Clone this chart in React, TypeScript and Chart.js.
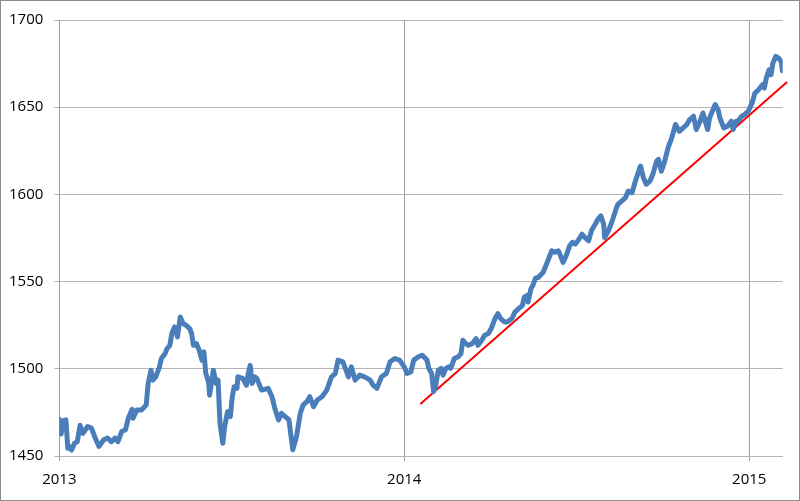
import React, { useEffect, useRef } from "react";
import { Chart, registerables } from "chart.js";

Chart.register(...registerables);

// Day offset from 1 Jan 2013
const days: number[] = [
  0, 2, 4, 7, 9, 11, 13, 16, 19, 22, 25, 30, 34, 38, 42, 47, 51, 55, 59, 62,
  66, 70, 73, 77, 78, 82, 87, 92, 94, 97, 99, 102, 106, 108, 112, 114, 117, 119, 122, 125,
  128, 131, 134, 138, 140, 142, 145, 148, 151, 153, 155, 158, 159, 163, 166, 168, 170, 173, 175, 178,
  181, 183, 185, 188, 189, 194, 198, 200, 202, 204, 207, 209, 214, 221, 225, 228, 232, 235, 239, 243,
  247, 251, 255, 258, 262, 265, 269, 273, 278, 283, 288, 292, 295, 300, 306, 309, 313, 318, 323, 329,
  332, 336, 341, 346, 350, 355, 360, 365, 368, 372, 375, 380, 384, 389, 391, 394, 396, 398, 401, 404,
  406, 409, 412, 414, 418, 422, 425, 427, 430, 433, 437, 441, 443, 447, 450, 454, 457, 461, 464, 467,
  471, 474, 479, 482, 486, 490, 492, 495, 496, 499, 501, 504, 507, 512, 517, 521, 524, 528, 531, 533,
  537, 540, 543, 546, 550, 553, 556, 560, 563, 567, 570, 573, 576, 577, 581, 585, 589, 591, 595, 599,
  602, 606, 609, 613, 615, 618, 621, 625, 628, 632, 634, 637, 640, 644, 648, 652, 656, 660, 664, 667,
  671, 674, 678, 681, 686, 688, 691, 694, 697, 699, 703, 707, 711, 713, 716, 718, 722, 725, 729, 733,
  736, 740, 744, 746, 748, 751, 753, 755, 758, 761, 764, 765,
];

const prices: number[] = [
  1471.1, 1462.6, 1470.3, 1470.7, 1454.4, 1455.3, 1453.4, 1457.2, 1458.2, 1467.6, 1463.0, 1466.9, 1466.0, 1460.3, 1455.5, 1459.3, 1460.3, 1458.2, 1460.3, 1458.2,
  1464.0, 1465.0, 1471.7, 1476.8, 1471.7, 1476.4, 1476.4, 1479.3, 1491.6, 1499.2, 1493.5, 1495.4, 1501.1, 1505.9, 1508.8, 1511.6, 1513.5, 1520.2, 1524.0, 1518.3,
  1529.7, 1525.9, 1525.0, 1523.1, 1520.2, 1513.5, 1514.5, 1510.6, 1504.9, 1509.7, 1497.3, 1492.5, 1484.9, 1499.2, 1491.6, 1493.5, 1468.8, 1457.3, 1466.9, 1475.4,
  1472.6, 1484.0, 1489.7, 1488.8, 1495.4, 1494.5, 1490.6, 1497.3, 1502.0, 1491.6, 1495.4, 1494.5, 1487.8, 1488.8, 1484.0, 1477.4, 1470.7, 1474.5, 1472.6, 1470.7,
  1453.6, 1461.2, 1474.5, 1479.3, 1481.2, 1484.0, 1478.3, 1482.1, 1484.0, 1487.8, 1495.4, 1497.3, 1505.0, 1504.0, 1495.4, 1501.1, 1493.5, 1496.4, 1495.4, 1493.5,
  1490.6, 1488.8, 1495.4, 1497.3, 1504.0, 1505.9, 1505.0, 1501.1, 1497.3, 1498.2, 1505.0, 1506.9, 1507.8, 1505.0, 1500.2, 1497.3, 1486.9, 1489.7, 1499.2, 1500.2,
  1496.4, 1500.2, 1501.1, 1500.2, 1505.9, 1506.9, 1508.7, 1516.4, 1514.5, 1513.5, 1514.5, 1517.3, 1513.5, 1516.4, 1519.2, 1520.2, 1523.1, 1528.8, 1531.6, 1528.8,
  1526.9, 1526.9, 1528.8, 1532.5, 1534.5, 1536.4, 1541.1, 1542.1, 1538.3, 1545.9, 1547.8, 1552.0, 1552.5, 1555.4, 1562.0, 1567.7, 1566.8, 1567.7, 1563.9, 1561.0,
  1565.8, 1570.6, 1572.5, 1571.5, 1574.4, 1577.2, 1575.3, 1573.4, 1579.1, 1582.9, 1585.8, 1587.7, 1582.9, 1575.3, 1579.1, 1584.8, 1591.5, 1594.3, 1596.2, 1598.1,
  1601.9, 1601.0, 1606.7, 1613.4, 1616.3, 1609.6, 1605.8, 1607.7, 1611.5, 1619.1, 1620.1, 1613.3, 1618.0, 1626.5, 1632.4, 1640.1, 1636.2, 1638.1, 1640.1, 1642.9,
  1644.8, 1637.2, 1642.0, 1646.7, 1637.2, 1643.8, 1647.7, 1651.5, 1648.6, 1643.8, 1638.1, 1639.1, 1642.0, 1637.2, 1642.0, 1642.0, 1644.8, 1645.8, 1647.7, 1652.4,
  1658.1, 1660.1, 1662.9, 1661.0, 1666.7, 1671.5, 1668.6, 1675.2, 1679.1, 1678.1, 1676.2, 1670.9,
];

// Trend line end points
const trendDays: number[] = [382, 770];
const trendValues: number[] = [1479.8, 1664.4];

const yearTickDays: number[] = [0, 365, 730];
const yearTickLabels: string[] = ["2013", "2014", "2015"];

const FONT = { family: "'Open Sans', sans-serif", size: 15 };

export default function App() {
  const ref = useRef<HTMLCanvasElement>(null);

  useEffect(() => {
    document.body.style.margin = "0";
    const canvas = ref.current;
    if (!canvas) return;

    const borderPlugin = {
      id: "outerBorder",
      afterDraw(chart: any) {
        const ctx = chart.ctx;
        ctx.save();
        ctx.strokeStyle = "#8c8c8c";
        ctx.lineWidth = 1;
        ctx.strokeRect(0.5, 0.5, chart.width - 1, chart.height - 1);
        ctx.restore();
      },
    };

    const chart = new Chart(canvas, {
      type: "line",
      data: {
        datasets: [
          {
            data: days.map((d, i) => ({ x: d, y: prices[i] })),
            borderColor: "#4a7ebb",
            borderWidth: 5,
            pointRadius: 0,
            tension: 0,
            borderJoinStyle: "round",
            borderCapStyle: "round",
          },
          {
            data: trendDays.map((d, i) => ({ x: d, y: trendValues[i] })),
            borderColor: "#ff0000",
            borderWidth: 2,
            pointRadius: 0,
            tension: 0,
            clip: false,
          } as any,
        ],
      },
      options: {
        responsive: false,
        animation: false,
        events: [],
        layout: { padding: { left: 0, top: 18.3, right: 17.3, bottom: 0 } },
        plugins: {
          legend: { display: false },
          tooltip: { enabled: false },
          title: { display: false },
        },
        scales: {
          x: {
            type: "linear",
            min: 0,
            max: 765.4,
            afterBuildTicks: (scale: any) => {
              scale.ticks = yearTickDays.map((v) => ({ value: v }));
            },
            afterFit: (scale: any) => {
              scale.height = 45;
            },
            ticks: {
              autoSkip: false,
              maxRotation: 0,
              padding: 9.5,
              color: "#000000",
              font: FONT,
              callback: (v: any) => {
                const idx = yearTickDays.indexOf(Number(v));
                return idx >= 0 ? yearTickLabels[idx] : "";
              },
            },
            grid: {
              color: "#a0a0a0",
              lineWidth: 1,
              drawTicks: true,
              tickLength: 5,
            },
            border: { display: true, color: "#b4b4b4" },
          },
          y: {
            min: 1450,
            max: 1700,
            afterFit: (scale: any) => {
              scale.width = 59.3;
            },
            ticks: {
              stepSize: 50,
              padding: 11,
              color: "#000000",
              font: FONT,
              callback: (v: any) => String(v),
            },
            grid: {
              color: "#b4b4b4",
              lineWidth: 1,
              drawTicks: true,
              tickLength: 5,
            },
            border: { display: true, color: "#a0a0a0" },
          },
        },
      },
      plugins: [borderPlugin],
    });

    return () => chart.destroy();
  }, []);

  return (
    <div style={{ width: 800, height: 501, position: "relative" }}>
      <canvas ref={ref} width={800} height={501} style={{ display: "block" }} />
    </div>
  );
}
